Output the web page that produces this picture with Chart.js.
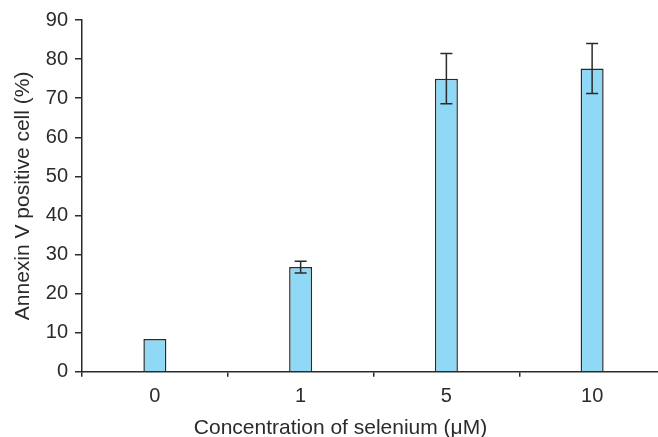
<!DOCTYPE html>
<html>
<head>
<meta charset="utf-8">
<script src="https://cdn.jsdelivr.net/npm/chart.js@4/dist/chart.umd.min.js"></script>
<style>
  html, body { margin: 0; padding: 0; background: #fff; overflow: hidden; }
  #wrap { width: 680px; height: 441px; }
</style>
</head>
<body>
<div id="wrap"><canvas id="chart" width="680" height="441"></canvas></div>
<script>
// values
const doses = ['0', '1', '5', '10'];
const annexin = [8.4, 26.8, 75.0, 77.6];
const errors = [0, 1.5, 6.4, 6.4];
const yTicks = [0, 10, 20, 30, 40, 50, 60, 70, 80, 90];

const ink = '#2b2b2b';
const fontFamily = '"Liberation Sans", Arial, Helvetica, sans-serif';

// draw the error bars from the scales
const errorBars = {
    id: 'errorBars',
    afterDatasetsDraw(chart) {
        const ctx = chart.ctx;
        const y = chart.scales.y;
        const meta = chart.getDatasetMeta(0);
        ctx.save();
        ctx.strokeStyle = ink;
        ctx.lineWidth = 1.5;
        meta.data.forEach((bar, i) => {
            if (!errors[i]) return;
            const top = y.getPixelForValue(annexin[i] + errors[i]);
            const bot = y.getPixelForValue(annexin[i] - errors[i]);
            ctx.beginPath();
            ctx.moveTo(bar.x, top);
            ctx.lineTo(bar.x, bot);
            ctx.moveTo(bar.x - 6, top);
            ctx.lineTo(bar.x + 6, top);
            ctx.moveTo(bar.x - 6, bot);
            ctx.lineTo(bar.x + 6, bot);
            ctx.stroke();
        });
        ctx.restore();
    }
};

new Chart(document.getElementById('chart'), {
    type: 'bar',
    data: {
        labels: doses,
        datasets: [{
            data: annexin,
            backgroundColor: '#8fd8f6',
            borderColor: ink,
            borderWidth: 1.5,
            borderSkipped: 'bottom',
            barPercentage: 0.158,
            categoryPercentage: 1
        }]
    },
    options: {
        responsive: false,
        animation: false,
        layout: { padding: { top: 20, right: 15, left: 16, bottom: 0 } },
        plugins: {
            legend: { display: false },
            tooltip: { enabled: false },
            // x axis caption, centred on the figure like the original
            title: {
                display: true,
                position: 'bottom',
                text: 'Concentration of selenium (\u03bcM)',
                color: ink,
                padding: { top: 0, bottom: 0 },
                font: { family: fontFamily, size: 21, weight: 'normal' }
            }
        },
        scales: {
            x: {
                grid: {
                    drawOnChartArea: false,
                    drawTicks: true,
                    tickLength: 5,
                    color: ink,
                    lineWidth: 1.5
                },
                border: { color: ink, width: 1.5 },
                ticks: {
                    color: ink,
                    padding: 8,
                    font: { family: fontFamily, size: 20 }
                },
                afterFit(scale) { scale.height = 44; }
            },
            y: {
                min: 0,
                max: 90,
                afterBuildTicks(scale) {
                    scale.ticks = yTicks.map(v => ({ value: v }));
                },
                grid: {
                    drawOnChartArea: false,
                    drawTicks: true,
                    tickLength: 7,
                    color: ink,
                    lineWidth: 1.5
                },
                border: { color: ink, width: 1.5 },
                ticks: {
                    color: ink,
                    padding: 7,
                    font: { family: fontFamily, size: 20 }
                },
                title: {
                    display: true,
                    text: 'Annexin V positive cell (%)',
                    color: ink,
                    padding: { top: -5, bottom: 0 },
                    font: { family: fontFamily, size: 21 }
                },
                afterFit(scale) { scale.width = 66; }
            }
        }
    },
    plugins: [errorBars]
});
</script>
</body>
</html>
